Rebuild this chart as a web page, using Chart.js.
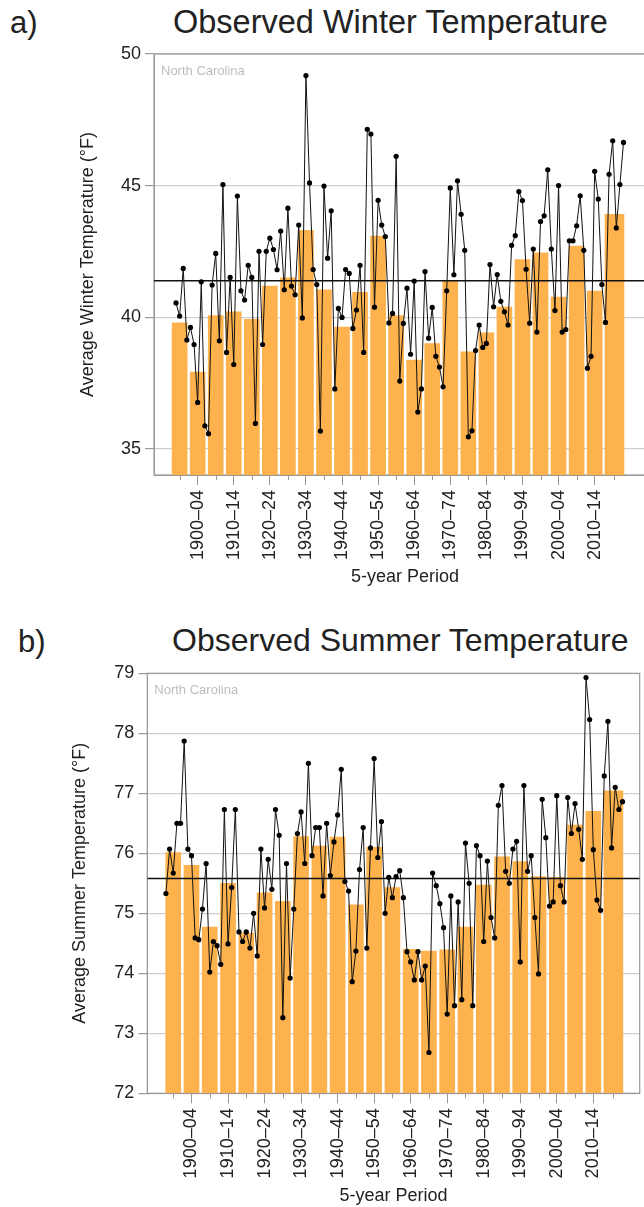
<!DOCTYPE html>
<html>
<head>
<meta charset="utf-8">
<script src="https://cdn.jsdelivr.net/npm/chart.js@4.4.1/dist/chart.umd.min.js"></script>
<style>
  html, body { margin: 0; padding: 0; background: #fff; overflow: hidden; width: 644px; height: 1207px; }
  body { position: relative; font-family: "Liberation Sans", Arial, sans-serif; color: #222; }
  .panel { position: absolute; left: 0; }
  .tag, .title { position: absolute; white-space: nowrap; line-height: 1; font-size: 31px; }
</style>
</head>
<body>
<div class="tag" style="left:10px; top:7px;">a)</div>
<div class="title" style="left:173px; top:6px; font-size:32.5px;">Observed Winter Temperature</div>
<div class="panel" style="top:0;"><canvas id="winterChart" width="660" height="600"></canvas></div>

<div class="tag" style="left:18px; top:626px;">b)</div>
<div class="title" style="left:172px; top:624px; font-size:32px;">Observed Summer Temperature</div>
<div class="panel" style="top:600px;"><canvas id="summerChart" width="644" height="607"></canvas></div>

<script>
const BAR_COLOR = '#fdb24e';
const AXIS_COLOR = '#9a9a9a';
const GRID_COLOR = '#cfcfcf';
const TEXT_COLOR = '#222';

Chart.defaults.font.family = '"Liberation Sans", Arial, sans-serif';

// 5-year periods (the last one covers six years)
const periodLabels = ['1895–99', '1900–04', '1905–09', '1910–14', '1915–19', '1920–24', '1925–29',
    '1930–34', '1935–39', '1940–44', '1945–49', '1950–54', '1955–59', '1960–64', '1965–69',
    '1970–74', '1975–79', '1980–84', '1985–89', '1990–94', '1995–99', '2000–04', '2005–09',
    '2010–14', '2015–20'];
const periodStart = [1895, 1900, 1905, 1910, 1915, 1920, 1925, 1930, 1935, 1940, 1945, 1950, 1955,
    1960, 1965, 1970, 1975, 1980, 1985, 1990, 1995, 2000, 2005, 2010, 2015];
const periodEnd = [1899, 1904, 1909, 1914, 1919, 1924, 1929, 1934, 1939, 1944, 1949, 1954, 1959,
    1964, 1969, 1974, 1979, 1984, 1989, 1994, 1999, 2004, 2009, 2014, 2020];
const periodCenters = periodStart.map((s, i) => (s + periodEnd[i]) / 2);

// Winter (Dec-Feb), 1896-2020
const winterFirstYear = 1896;
const winterTemps = [
    40.54, 40.04, 41.85, 39.13,
    39.61, 38.96, 36.76, 41.34, 35.87, 35.57, 41.22, 42.42, 39.10, 45.04,
    38.66, 41.51, 38.20, 44.60, 41.00, 40.65, 41.97, 41.51, 35.96, 42.50,
    38.96, 42.50, 43.00, 42.57, 41.80, 43.27, 41.04, 44.14, 41.18, 40.85,
    43.50, 39.97, 49.18, 45.10, 41.81, 41.24, 35.67, 44.98, 42.24, 44.04,
    37.27, 40.33, 39.99, 41.81, 41.66, 39.57, 40.27, 41.97, 38.66, 47.14,
    46.96, 40.38, 44.44, 43.50, 43.06, 39.78, 40.14, 46.11, 37.57, 39.76,
    41.10, 38.59, 41.37, 36.39, 37.27, 41.73, 39.20, 40.37, 38.51, 38.10,
    37.35, 41.00, 44.91, 41.61, 45.18, 43.91, 42.54, 35.45, 35.68, 38.73,
    39.70, 38.85, 39.00, 42.00, 40.39, 41.62, 40.60, 40.20, 39.70, 42.73,
    43.10, 44.77, 44.43, 41.82, 39.77, 42.59, 39.43, 43.63, 43.85, 45.60,
    42.59, 40.25, 45.00, 39.43, 39.53, 42.90, 42.90, 43.47, 44.61, 42.54,
    38.06, 38.51, 45.54, 44.49, 41.24, 39.80, 45.43, 46.70, 43.39, 45.04,
    46.64
];
const winterPeriodAvg = [39.78, 37.91, 40.06, 40.20, 39.92, 41.18, 41.49, 43.30, 41.04, 39.62,
    40.94, 43.08, 40.06, 38.37, 38.99, 41.37, 38.68, 39.40, 40.38, 42.19, 42.44, 40.76, 42.70,
    40.99, 43.91];
const winterMean = 41.38;
const winterYTicks = [35, 40, 45, 50];

// Summer (Jun-Aug), 1895-2020
const summerFirstYear = 1895;
const summerTemps = [
    75.33, 76.07, 75.67, 76.50, 76.50,
    77.87, 76.07, 75.96, 74.59, 74.56, 75.07, 75.83, 74.02, 74.53, 74.46,
    74.15, 76.73, 74.49, 75.43, 76.73, 74.69, 74.53, 74.69, 74.42, 75.00,
    74.29, 76.07, 75.09, 75.90, 75.40, 76.73, 76.30, 73.26, 75.83, 73.92,
    75.07, 76.33, 76.69, 75.83, 77.50, 75.96, 76.43, 76.43, 75.29, 76.50,
    75.63, 76.19, 76.64, 77.40, 75.53, 75.37, 73.86, 74.37, 75.73, 76.43,
    74.42, 76.09, 77.58, 75.93, 76.53, 75.00, 75.60, 75.26, 75.61, 75.71,
    75.26, 74.36, 74.19, 73.89, 74.36, 73.89, 74.12, 72.68, 75.67, 75.46,
    75.16, 74.76, 73.32, 75.29, 73.46, 75.19, 73.56, 76.17, 75.50, 73.46,
    76.13, 75.96, 74.53, 75.87, 74.93, 74.59, 76.80, 77.13, 75.70, 75.50,
    76.07, 76.20, 74.19, 77.13, 75.70, 75.96, 74.93, 73.99, 76.90, 76.26,
    75.12, 75.19, 76.96, 75.46, 75.19, 76.93, 76.33, 76.83, 76.40, 75.90,
    78.93, 78.23, 76.06, 75.22, 75.05, 77.29, 78.20, 76.09, 77.10, 76.73,
    76.86
];
const summerPeriodAvg = [76.01, 75.80, 74.77, 75.50, 74.67, 75.34, 75.20, 76.28, 76.12, 76.27,
    75.14, 76.10, 75.43, 74.40, 74.37, 74.39, 74.77, 75.47, 75.94, 75.86, 75.61, 75.60, 76.47,
    76.70, 77.04];
const summerMean = 75.58;
const summerYTicks = [72, 73, 74, 75, 76, 77, 78, 79];

// frame box, short ticks for unlabeled periods and the state name
const plotFrame = {
    id: 'plotFrame',
    beforeDatasetsDraw(chart, args, opts) {
        const { ctx, chartArea: a } = chart;
        const xs = chart.scales.x;
        ctx.save();
        ctx.strokeStyle = AXIS_COLOR;
        ctx.lineWidth = 1.2;
        ctx.strokeRect(a.left, a.top, a.right - a.left, a.bottom - a.top);
        ctx.lineWidth = 1;
        ctx.beginPath();
        xs.ticks.forEach((t, i) => {
            if (i % 2) return;
            const px = Math.round(xs.getPixelForValue(t.value)) + 0.5;
            ctx.moveTo(px, a.bottom);
            ctx.lineTo(px, a.bottom + 5);
        });
        ctx.stroke();
        ctx.fillStyle = '#bdbdbd';
        ctx.font = '13px "Liberation Sans", Arial, sans-serif';
        ctx.fillText(opts.label, a.left + 7, a.top + 20.5);
        ctx.restore();
    }
};

function makeChart(canvasId, p) {
    const n = periodCenters.length;
    const regular = periodCenters.slice(0, n - 1).map((c, i) => ({ x: c, y: p.bars[i] }));
    const last = [{ x: periodCenters[n - 1], y: p.bars[n - 1] }];
    const annual = p.values.map((v, i) => ({ x: p.firstYear + i, y: v }));
    const meanLine = [{ x: p.xMin, y: p.mean }, { x: p.xMax, y: p.mean }];

    return new Chart(document.getElementById(canvasId), {
        type: 'bar',
        data: {
            datasets: [
                {
                    type: 'line', data: annual, borderColor: '#111', borderWidth: 1,
                    pointRadius: 2.6, pointBackgroundColor: '#000', pointBorderWidth: 0,
                    tension: 0, order: 1
                },
                {
                    type: 'line', data: meanLine, borderColor: '#111', borderWidth: 1.6,
                    pointRadius: 0, order: 2
                },
                { data: regular, backgroundColor: BAR_COLOR, barThickness: 15, grouped: false, base: p.yMin, order: 3 },
                { data: last, backgroundColor: BAR_COLOR, barThickness: 19, grouped: false, base: p.yMin, order: 3 }
            ]
        },
        options: {
            responsive: false,
            animation: false,
            layout: { padding: p.padding },
            plugins: {
                legend: { display: false },
                tooltip: { enabled: false },
                plotFrame: { label: 'North Carolina' }
            },
            scales: {
                x: {
                    type: 'linear',
                    min: p.xMin,
                    max: p.xMax,
                    offset: false,
                    afterBuildTicks: s => { s.ticks = periodCenters.map(v => ({ value: v })); },
                    afterFit: s => { s.height = p.xHeight; },
                    grid: {
                        offset: false,
                        drawOnChartArea: false,
                        tickLength: 10,
                        tickColor: c => (c.index % 2 ? AXIS_COLOR : 'transparent')
                    },
                    border: { color: AXIS_COLOR },
                    ticks: {
                        autoSkip: false,
                        minRotation: 90,
                        maxRotation: 90,
                        padding: 5,
                        color: TEXT_COLOR,
                        font: { size: 18 },
                        callback: (v, i) => (i % 2 ? periodLabels[i] : '')
                    },
                    title: { display: true, text: '5-year Period', color: TEXT_COLOR, font: { size: 18 }, padding: 0 }
                },
                y: {
                    min: p.yMin,
                    max: p.yMax,
                    beginAtZero: false,
                    afterBuildTicks: s => { s.ticks = p.yTicks.map(v => ({ value: v })); },
                    afterFit: s => { s.width = p.yWidth; },
                    grid: { color: GRID_COLOR, lineWidth: 1.2, tickLength: 9, tickColor: AXIS_COLOR },
                    border: { color: AXIS_COLOR },
                    ticks: { padding: 4, color: TEXT_COLOR, font: { size: 18 } },
                    title: { display: true, text: p.yTitle, color: TEXT_COLOR, font: { size: 18 }, padding: 0 }
                }
            }
        },
        plugins: [plotFrame]
    });
}

makeChart('winterChart', {
    values: winterTemps, firstYear: winterFirstYear, bars: winterPeriodAvg, mean: winterMean,
    xMin: 1889.9, xMax: 2029.0, yMin: 34, yMax: 50, yTicks: winterYTicks,
    yTitle: 'Average Winter Temperature (°F)',
    padding: { left: 77, top: 54, right: 0.6, bottom: 12.2 },
    yWidth: 77, xHeight: 112.8
});

makeChart('summerChart', {
    values: summerTemps, firstYear: summerFirstYear, bars: summerPeriodAvg, mean: summerMean,
    xMin: 1889.9, xMax: 2024.7, yMin: 72, yMax: 79, yTicks: summerYTicks,
    yTitle: 'Average Summer Temperature (°F)',
    padding: { left: 69, top: 73.3, right: 4.3, bottom: 0.2 },
    yWidth: 78.3, xHeight: 113.5
});
</script>
</body>
</html>
